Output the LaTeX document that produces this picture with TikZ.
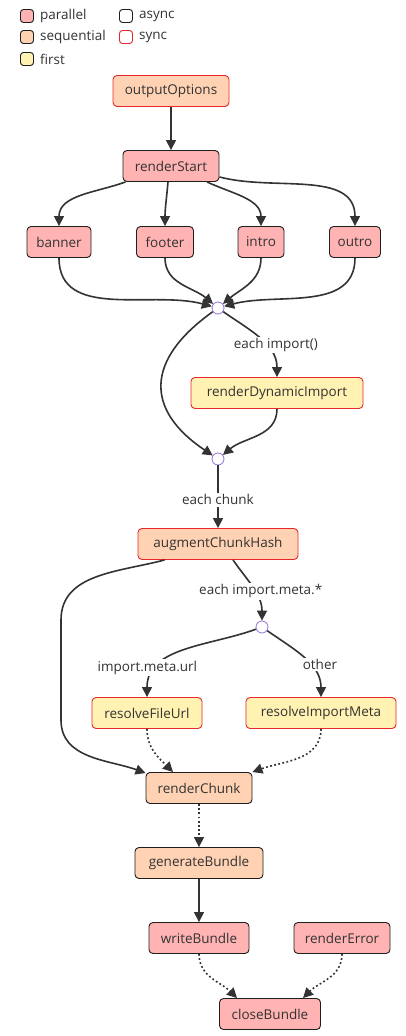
\documentclass[tikz,border=0pt]{standalone}
\usepackage{fontspec}
\setmainfont{Open Sans}
\usepackage{xcolor}
\usetikzlibrary{arrows.meta,positioning,calc}
\definecolor{parfill}{HTML}{FFB3B3}
\definecolor{seqfill}{HTML}{FFD2B3}
\definecolor{firstfill}{HTML}{FFF2B3}
\definecolor{syncline}{HTML}{E8282B}
\definecolor{asyncline}{HTML}{1E1E1E}
\definecolor{flowcol}{HTML}{333333}
\definecolor{joincol}{HTML}{9370DB}
\definecolor{txtcol}{HTML}{333333}
\begin{document}
\begin{tikzpicture}[x=1pt,y=1pt,
			font=\fontsize{13.5}{15}\selectfont,
			hook/.style={draw=asyncline, rounded corners=4pt, line width=0.9pt, minimum height=31pt, inner xsep=3pt, text=txtcol},
			parhook/.style={hook, fill=parfill},
			seqhook/.style={hook, fill=seqfill},
			firsthook/.style={hook, fill=firstfill},
			synchook/.style={draw=syncline},
			junction/.style={circle, draw=joincol, fill=white, line width=0.8pt, minimum size=12pt, inner sep=0pt},
			key/.style={draw=asyncline, rounded corners=3pt, line width=0.9pt, minimum size=13pt, inner sep=0pt},
			keytxt/.style={text=txtcol, inner sep=0pt},
			lbl/.style={fill=white, text=txtcol, inner sep=1.5pt},
			flow/.style={draw=flowcol, line width=1.6pt, -{Triangle[length=10pt,width=10pt]}},
			dflow/.style={flow, dash pattern=on 1.8pt off 2.4pt}
			]
			\fill[white] (0,0) rectangle (405,-1036);
			\useasboundingbox (0,0) rectangle (405,-1036);
			% legend
			\node[key, fill=parfill] (kpar) at (27,-16) {};
			\node[keytxt, right=6pt of kpar] {parallel};
			\node[key, fill=seqfill] (kseq) at (27,-37) {};
			\node[keytxt, right=6pt of kseq] {sequential};
			\node[key, fill=firstfill] (kfirst) at (27,-59) {};
			\node[keytxt, right=6pt of kfirst] {first};
			\node[key, fill=white] (kasync) at (126,-16) {};
			\node[keytxt, right=6pt of kasync] {async};
			\node[key, fill=white, draw=syncline] (ksync) at (126,-37) {};
			\node[keytxt, right=6pt of ksync] {sync};

			\node[seqhook, synchook, minimum width=116pt] (outopt) at (171,-91) {outputOptions};
			\node[parhook, minimum width=96pt] (rstart) at (171,-166) {renderStart};
			\node[parhook, minimum width=64pt] (banner) at (59,-242) {banner};
			\node[parhook, minimum width=57pt] (footer) at (165,-242) {footer};
			\node[parhook, minimum width=46pt] (intro) at (261,-242) {intro};
			\node[parhook, minimum width=51pt] (outro) at (355,-242) {outro};
			\node[junction] (j1) at (218,-308) {};
			\node[firsthook, synchook, minimum width=172pt] (dynimp) at (277,-393) {renderDynamicImport};
			\node[junction] (j2) at (218,-459) {};
			\node[seqhook, synchook, minimum width=160pt] (augment) at (218,-544) {augmentChunkHash};
			\node[junction] (j3) at (262,-627) {};
			\node[firsthook, synchook, minimum width=110pt] (fileurl) at (147,-713) {resolveFileUrl};
			\node[firsthook, synchook, minimum width=150pt] (impmeta) at (321,-713) {resolveImportMeta};
			\node[seqhook, minimum width=106pt] (rchunk) at (199,-788) {renderChunk};
			\node[seqhook, minimum width=128pt] (genbundle) at (199,-863) {generateBundle};
			\node[parhook, minimum width=100pt] (wbundle) at (199,-938) {writeBundle};
			\node[parhook, minimum width=96pt] (rerror) at (342,-938) {renderError};
			\node[parhook, minimum width=101pt] (cbundle) at (270,-1014) {closeBundle};

			\draw[flow] (outopt) -- (rstart);
			\draw[flow] ($(rstart.south west)+(3,0)$) to[out=200,in=90] (banner.north);
			\draw[flow] ($(rstart.south)+(-3,0)$) to[out=-95,in=90] (footer.north);
			\draw[flow] ($(rstart.south)+(36,0)$) to[out=-25,in=90] (intro.north);
			\draw[flow] ($(rstart.south east)+(0,5)$) to[out=-15,in=90] (outro.north);
			\draw[flow] (banner.south) to[out=-90,in=165] (j1);
			\draw[flow] (footer.south) to[out=-90,in=140] (j1);
			\draw[flow] (intro.south) to[out=-90,in=40] (j1);
			\draw[flow] (outro.south) to[out=-90,in=15] (j1);
			\draw[flow] (j1) .. controls (145,-360) and (145,-410) .. (j2);
			\draw[flow] (j1) to[out=-35,in=90] node[lbl, pos=0.6, xshift=10pt] {each import()} (dynimp.north);
			\draw[flow] (dynimp.south) to[out=-90,in=40] (j2);
			\draw[flow] (j2) -- node[lbl, pos=0.55] {each chunk} (augment);
			\draw[flow] ($(augment.south west)+(27,0)$) to[out=195,in=90] (61,-620) -- (61,-720) to[out=-90,in=160] ($(rchunk.north west)+(0,-1)$);
			\draw[flow] ($(augment.south)+(15,0)$) to[out=-55,in=90] node[lbl, pos=0.55, xshift=6pt] {each import.meta.*} (j3);
			\draw[flow] (j3) to[out=200,in=90] node[lbl, pos=0.75, xshift=-10pt] {import.meta.url} (fileurl.north);
			\draw[flow] (j3) to[out=-35,in=90] node[lbl, pos=0.6, xshift=10pt] {other} (impmeta.north);
			\draw[dflow] (fileurl.south) to[out=-90,in=135] ($(rchunk.north)+(-26,0)$);
			\draw[dflow] (impmeta.south) to[out=-90,in=20] (rchunk.north east);
			\draw[dflow] (rchunk) -- (genbundle);
			\draw[flow] (genbundle) -- (wbundle);
			\draw[dflow] (wbundle.south) to[out=-90,in=135] ($(cbundle.north)+(-33,0)$);
			\draw[dflow] (rerror.south) to[out=-90,in=45] ($(cbundle.north)+(33,0)$);
%			\draw[flow] (augment) -- (rchunk);
		\end{tikzpicture}
\end{document}
